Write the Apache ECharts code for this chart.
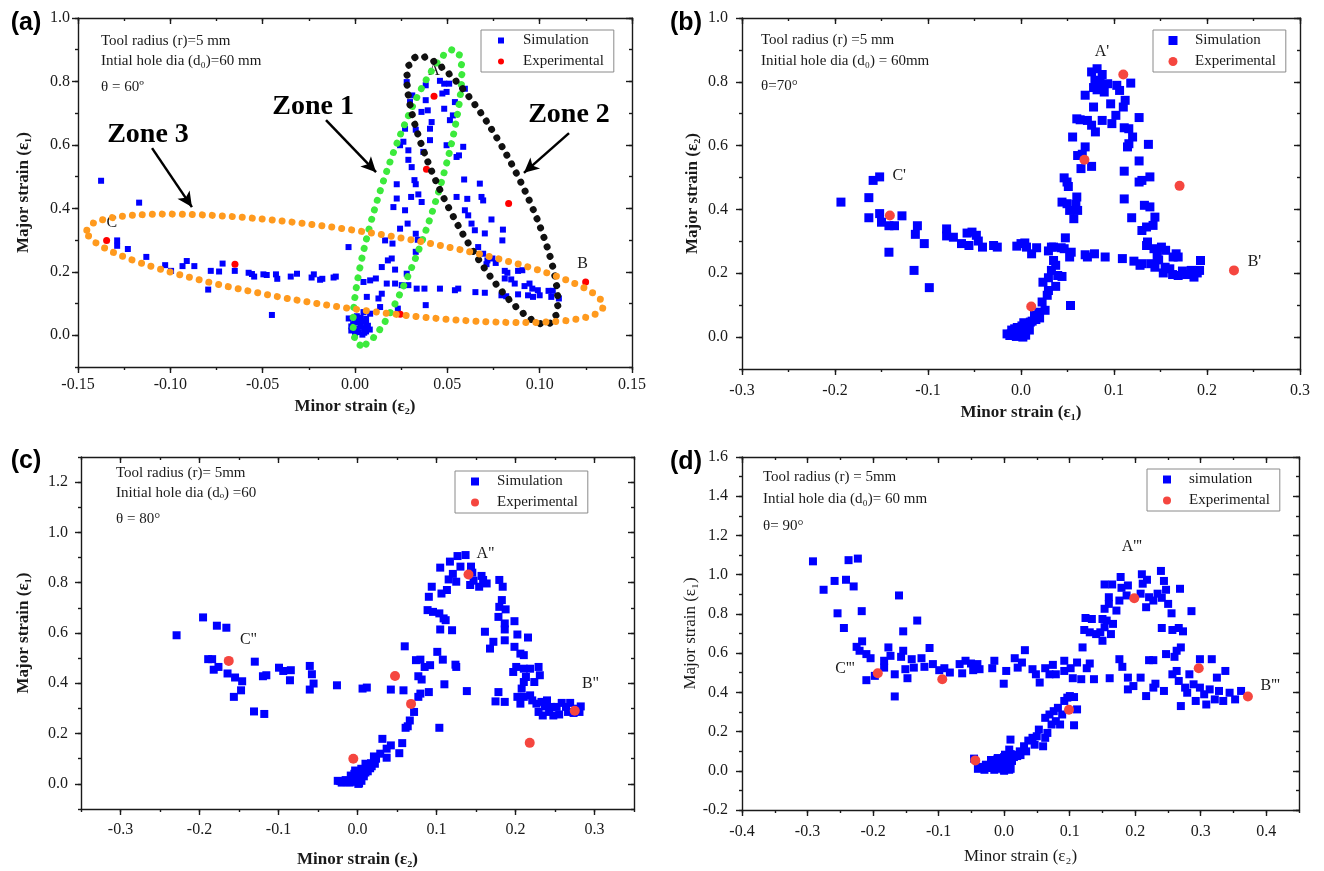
<!DOCTYPE html>
<html>
<head>
<meta charset="utf-8">
<title>Strain distribution</title>
<script src="https://cdn.jsdelivr.net/npm/echarts@6.0.0/dist/echarts.min.js"></script>
<style>
  * { margin: 0; padding: 0; }
  html, body { background: #fff; }
  #main { width: 1324px; height: 871px; }
</style>
</head>
<body>
<div id="main"></div>
<script>
// ---- (a) theta = 60
var simA = [
  [-0.1375,0.487],[-0.1288,0.299],[-0.1288,0.282],[-0.123,0.272],[-0.1169,0.418],[-0.113,0.247],
  [-0.1028,0.221],[-0.0996,0.203],[-0.0934,0.218],[-0.0911,0.234],[-0.087,0.218],[-0.0795,0.144],
  [-0.0781,0.203],[-0.0736,0.201],[-0.0717,0.226],[-0.0651,0.203],[-0.0576,0.197],[-0.0558,0.193],
  [-0.0546,0.185],[-0.0496,0.192],[-0.0478,0.19],[-0.045,0.064],[-0.0428,0.192],[-0.0421,0.178],
  [-0.0348,0.185],[-0.0314,0.194],[-0.0235,0.182],[-0.0223,0.192],[-0.0189,0.175],[-0.0177,0.178],
  [-0.0116,0.182],[-0.0104,0.185],[-0.0035,0.278],
  [0.028,0.798],[0.0383,0.788],[0.046,0.802],[0.0483,0.793],[0.051,0.793],[0.0595,0.777],
  [0.0473,0.762],[0.0496,0.767],[0.0541,0.735],[0.031,0.756],[0.0383,0.741],[0.0298,0.735],
  [0.036,0.704],[0.0394,0.709],[0.0483,0.714],[0.053,0.693],[0.0514,0.678],[0.0415,0.672],
  [0.0406,0.651],[0.0271,0.651],[0.0329,0.648],[0.0406,0.615],[0.0262,0.61],[0.0244,0.599],
  [0.0496,0.599],[0.0586,0.594],[0.0289,0.583],[0.037,0.578],[0.0289,0.553],[0.055,0.562],
  [0.0563,0.567],[0.0307,0.53],[0.0322,0.489],[0.0329,0.476],[0.0226,0.476],[0.0591,0.491],
  [0.0676,0.478],[0.0343,0.444],[0.0304,0.436],[0.0226,0.431],[0.0361,0.42],[0.055,0.436],
  [0.0608,0.43],[0.0685,0.436],[0.0694,0.425],[0.0208,0.404],[0.0271,0.394],[0.0595,0.394],
  [0.0613,0.378],[0.0631,0.352],[0.0739,0.365],[0.0649,0.331],[0.0703,0.321],[0.0801,0.333],
  [0.0798,0.299],[0.0244,0.336],[0.0285,0.352],[0.0163,0.299],[0.0203,0.289],[0.0329,0.32],
  [0.0199,0.242],[0.0178,0.236],[0.0217,0.207],[0.0145,0.215],[0.0329,0.263],[0.034,0.301],
  [0.028,0.194],[0.0667,0.278],[0.0694,0.257],[0.0717,0.236],[0.0744,0.242],[0.0762,0.228],
  [0.0712,0.224],[0.0811,0.203],[0.0825,0.197],[0.0846,0.176],[0.0883,0.203],[0.0906,0.205],
  [0.0811,0.179],[0.0865,0.163],[0.0918,0.155],[0.0945,0.163],[0.096,0.147],[0.099,0.142],
  [0.1048,0.14],[0.1071,0.14],[0.1104,0.116],[0.1063,0.121],[0.1,0.126],[0.0937,0.126],
  [0.0964,0.121],[0.0883,0.129],[0.0819,0.123],[0.0793,0.126],[0.0703,0.134],[0.0652,0.136],
  [0.0559,0.147],[0.0541,0.142],[0.046,0.147],[0.0376,0.147],[0.0334,0.147],[0.0383,0.095],
  [0.0289,0.158],[0.0253,0.158],[0.0217,0.163],[0.0172,0.163],[0.0113,0.179],[0.0082,0.173],
  [0.0046,0.168],[0.0145,0.131],[0.0127,0.116],[0.0064,0.121],[0.0136,0.089],[0.0232,0.084],
  [0.0046,0.073],[0.0082,0.068],[-0.0034,0.053],
  [0.000,0.005],[0.002,0.010],[0.004,0.002],[0.006,0.012],[0.001,0.020],[0.003,0.028],
  [0.005,0.022],[0.007,0.030],[-0.001,0.035],[0.002,0.040],[0.004,0.045],[0.006,0.038],
  [0.000,0.050],[0.003,0.055],[-0.002,0.015],[0.008,0.018],[0.005,0.008],[0.001,0.060],
  [0.006,0.052],[-0.002,0.028]
];
var expA = [[-0.1345,0.299],[-0.065,0.224],[0.0245,0.066],[0.0387,0.523],[0.0428,0.753],[0.0832,0.415],[0.1249,0.168]];
var labelsA = [['C',-0.1317,0.354],['B',0.1233,0.224],['A',0.0428,0.833]];
var xTicksA = [-0.15,-0.10,-0.05,0.00,0.05,0.10,0.15];
var yTicksA = [0.0,0.2,0.4,0.6,0.8,1.0];
var infoA = ['Tool radius (r)=5 mm', 'Intial hole dia (d\u2080)=60 mm', '\u03b8 = 60\u00ba'];

// ---- (b) theta = 70
var simB = [
  [-0.1936,0.423],[-0.1636,0.437],[-0.1636,0.374],[-0.159,0.491],[-0.152,0.502],[-0.152,0.387],
  [-0.150,0.360],[-0.142,0.349],[-0.136,0.349],[-0.142,0.266],[-0.128,0.380],[-0.115,0.209],
  [-0.1136,0.322],[-0.1114,0.349],[-0.104,0.293],[-0.0986,0.155],[-0.080,0.339],[-0.080,0.317],
  [-0.0727,0.313],[-0.064,0.293],[-0.058,0.326],[-0.056,0.287],[-0.0527,0.329],[-0.048,0.319],
  [-0.0459,0.301],[-0.0414,0.282],[-0.0295,0.287],[-0.0255,0.282],[-0.0045,0.285],[0.0,0.293],
  [0.0041,0.295],[0.0059,0.282],[0.0114,0.261],[0.0168,0.280],
  [0.0295,0.270],[0.035,0.282],[0.0432,0.280],[0.0464,0.277],[0.0523,0.251],[0.054,0.266],
  [0.069,0.258],[0.0714,0.251],[0.079,0.261],[0.0905,0.251],[0.109,0.246],[0.1214,0.238],
  [0.128,0.225],[0.130,0.230],[0.1395,0.230],[0.144,0.219],[0.148,0.242],[0.153,0.201],
  [0.155,0.219],[0.16,0.214],[0.163,0.196],[0.169,0.193],[0.1736,0.207],[0.178,0.196],
  [0.183,0.209],[0.186,0.188],[0.1895,0.201],[0.192,0.209],[0.193,0.240],[0.1668,0.261],
  [0.169,0.251],[0.1636,0.251],[0.1555,0.272],[0.151,0.282],[0.1464,0.256],[0.143,0.277],
  [0.135,0.287],[0.136,0.298],[0.135,0.345],[0.142,0.350],[0.144,0.376],[0.1386,0.408],
  [0.1327,0.413],[0.130,0.334],[0.130,0.491],[0.1386,0.502],[0.127,0.486],[0.127,0.552],
  [0.137,0.604],[0.119,0.374],[0.111,0.433],[0.111,0.520],[0.1145,0.596],[0.116,0.606],
  [0.120,0.627],[0.1159,0.653],[0.111,0.656],[0.127,0.688],[0.112,0.742],[0.110,0.721],
  [0.118,0.796],[0.106,0.773],[0.103,0.789],[0.102,0.695],[0.0977,0.669],[0.0964,0.731],
  [0.0932,0.794],[0.0895,0.768],[0.0873,0.782],[0.085,0.796],[0.0818,0.841],[0.0873,0.823],
  [0.0759,0.831],[0.0795,0.805],[0.0818,0.775],[0.078,0.782],[0.069,0.758],[0.078,0.721],
  [0.080,0.643],[0.0759,0.664],[0.0714,0.679],[0.0636,0.681],[0.06,0.684],[0.0873,0.679],
  [0.0555,0.627],[0.069,0.596],[0.0659,0.573],[0.0609,0.569],[0.0759,0.535],[0.0645,0.528],
  [0.0464,0.499],[0.0495,0.486],[0.0509,0.472],[0.0441,0.423],[0.0495,0.418],[0.0523,0.397],
  [0.059,0.416],[0.06,0.439],[0.0568,0.371],[0.0609,0.397],[0.0477,0.311],
  [0.0327,0.282],[0.035,0.240],[0.0373,0.225],[0.0327,0.209],[0.0395,0.193],[0.0295,0.186],
  [0.0441,0.190],[0.0236,0.172],[0.0373,0.159],[0.0295,0.146],[0.0282,0.131],[0.0227,0.110],
  [0.0259,0.084],[0.0191,0.078],[0.0532,0.099],[0.0145,0.068],[0.01,0.047],[0.0055,0.037],
  [0.0032,0.026],[-0.0014,0.021],[-0.0036,0.010],[-0.0105,0.010],[0.0009,0.005],[-0.0068,0.026],
  [-0.015,0.01],[-0.012,0.005],[-0.008,0.015],[-0.005,0.002],[-0.003,0.02],[0,0.008],
  [0.002,0.0],[0.004,0.015],[0.006,0.03],[0.001,0.035],[-0.004,0.03],[0.008,0.04],
  [0.003,0.045],[0.009,0.022],[-0.01,0.022],[0.005,0.006],[0.012,0.05],[0.016,0.055],[0.02,0.06]
];
var expB = [[-0.141,0.381],[0.011,0.096],[0.0682,0.556],[0.110,0.823],[0.1705,0.474],[0.229,0.209]];
var labelsB = [["A'",0.087,0.893],["C'",-0.131,0.505],["B'",0.251,0.235]];
var xTicksB = [-0.3,-0.2,-0.1,0.0,0.1,0.2,0.3];
var yTicksB = [0.0,0.2,0.4,0.6,0.8,1.0];
var infoB = ['Tool radius (r) =5 mm', 'Initial hole dia (d\u2080) = 60mm', '\u03b8=70\u00b0'];

// ---- (c) theta = 80
var simC = [
  [-0.229,0.591],[-0.1955,0.662],[-0.178,0.629],[-0.166,0.621],[-0.189,0.496],[-0.184,0.496],
  [-0.182,0.454],[-0.176,0.465],[-0.1645,0.439],[-0.155,0.423],[-0.146,0.408],[-0.1474,0.372],
  [-0.1565,0.346],[-0.130,0.486],[-0.131,0.288],[-0.118,0.278],[-0.1197,0.428],[-0.1154,0.432],
  [-0.0994,0.462],[-0.094,0.449],[-0.0844,0.452],[-0.0855,0.412],[-0.0604,0.469],[-0.0577,0.436],
  [-0.0556,0.399],[-0.0604,0.375],[-0.026,0.392],[0.0064,0.379],[0.0118,0.383],[0.0422,0.375],
  [0.0582,0.372],[0.0598,0.547],[0.074,0.492],[0.0796,0.494],[0.085,0.465],[0.077,0.428],
  [0.0812,0.415],[0.0919,0.472],[0.0903,0.365],[0.0796,0.359],[0.077,0.346],[0.0716,0.286],
  [0.0662,0.252],[0.0636,0.229],[0.0609,0.223],[0.1036,0.223],[0.101,0.525],[0.108,0.494],
  [0.110,0.396],[0.124,0.474],[0.125,0.465],[0.1384,0.369],[0.0566,0.162],[0.0529,0.122],
  [0.0422,0.153],[0.0369,0.140],[0.0315,0.179],[0.0288,0.120],[0.0369,0.104],[0.0235,0.100],
  [0.0208,0.109],[0.0171,0.082],[0.0128,0.066],[0.0075,0.040],[0.0021,0.020],[-0.0032,0.016],
  [-0.0139,0.007],[-0.0219,0.011],[-0.0085,0.033],[0.001,0.0],[-0.003,0.053],[0.0048,0.060],
  [0.0101,0.080],
  [0.0887,0.691],[0.0956,0.684],[0.1036,0.678],[0.109,0.658],[0.1116,0.651],[0.1047,0.614],
  [0.1197,0.611],[0.0903,0.744],[0.094,0.784],[0.1063,0.757],[0.1132,0.771],[0.1047,0.860],
  [0.117,0.884],[0.1266,0.906],[0.1368,0.910],[0.1303,0.864],[0.1437,0.864],[0.1453,0.840],
  [0.1154,0.813],[0.125,0.804],[0.1207,0.835],[0.1426,0.791],[0.154,0.784],[0.157,0.827],
  [0.159,0.811],[0.1635,0.797],[0.1469,0.808],[0.1795,0.811],[0.1838,0.784],[0.1827,0.731],
  [0.1795,0.704],[0.1875,0.694],[0.1784,0.664],[0.1864,0.638],[0.1864,0.614],[0.1864,0.571],
  [0.1613,0.605],[0.172,0.565],[0.1677,0.538],[0.1987,0.647],[0.2024,0.594],[0.1987,0.545],
  [0.2062,0.518],[0.2105,0.512],[0.2158,0.582],[0.2009,0.465],[0.1971,0.445],[0.2105,0.458],
  [0.2185,0.458],[0.2292,0.465],[0.2308,0.432],[0.2238,0.405],[0.2105,0.405],[0.2132,0.425],
  [0.2078,0.379],[0.1784,0.365],[0.1747,0.328],[0.1864,0.326],[0.2024,0.346],[0.2062,0.319],
  [0.2105,0.346],[0.2185,0.352],[0.2212,0.332],[0.2265,0.319],[0.2329,0.326],[0.2372,0.308],
  [0.2292,0.286],[0.2345,0.272],[0.2425,0.286],[0.2479,0.272],[0.2521,0.306],[0.2585,0.322],
  [0.2639,0.306],[0.2692,0.322],[0.2665,0.286],[0.2735,0.282],[0.2788,0.299],[0.2826,0.308],
  [0.281,0.286],[0.2553,0.276],[0.2452,0.306],[0.2399,0.332],
  [-0.025,0.012],[-0.02,0.005],[-0.015,0.015],[-0.01,0.005],[-0.006,0.02],[-0.002,0.008],
  [0.002,0.002],[0.005,0.012],[0.0,0.028],[0.004,0.035],[0.008,0.03],[0.01,0.045],
  [0.013,0.05],[0.016,0.062],[0.006,0.055],[-0.004,0.04],[0.018,0.07],[0.022,0.08]
];
var expC = [[-0.163,0.489],[-0.0053,0.0997],[0.0475,0.429],[0.0678,0.318],[0.1405,0.833],[0.218,0.163],[0.275,0.291]];
var labelsC = [['A"',0.162,0.917],['C"',-0.138,0.571],['B"',0.295,0.399]];
var xTicksC = [-0.3,-0.2,-0.1,0.0,0.1,0.2,0.3];
var yTicksC = [0.0,0.2,0.4,0.6,0.8,1.0,1.2];
var infoC = ['Tool radius (r)= 5mm', 'Initial hole dia (d\u2092) =60', '\u03b8 = 80\u00b0'];

// ---- (d) theta = 90
var simD = [
  [-0.2917,1.068],[-0.2755,0.923],[-0.2587,0.968],[-0.2542,0.803],[-0.2445,0.728],[-0.2413,0.974],
  [-0.2374,1.074],[-0.2296,0.940],[-0.2232,1.082],[-0.2173,0.814],[-0.2251,0.632],[-0.2167,0.660],
  [-0.2206,0.612],[-0.2102,0.595],[-0.2038,0.574],[-0.2102,0.462],[-0.1973,0.484],[-0.1831,0.561],
  [-0.1831,0.526],[-0.1766,0.629],[-0.1734,0.586],[-0.1669,0.492],[-0.1669,0.379],[-0.1604,0.894],
  [-0.1572,0.581],[-0.154,0.612],[-0.154,0.711],[-0.1507,0.518],[-0.1475,0.472],[-0.141,0.569],
  [-0.1378,0.526],[-0.1326,0.766],[-0.1261,0.574],[-0.1216,0.530],[-0.1138,0.626],[-0.1087,0.544],
  [-0.099,0.513],[-0.0912,0.523],[-0.0828,0.501],[-0.0679,0.544],[-0.064,0.497],[-0.0589,0.561],
  [-0.0505,0.547],[-0.0472,0.513],[-0.0408,0.544],[-0.0375,0.518],[-0.0181,0.523],[-0.0149,0.561],
  [-0.0006,0.444],[0.0032,0.509],[0.0162,0.574],[0.0272,0.552],[0.0207,0.526],[0.0317,0.615],
  [0.0433,0.518],[0.0485,0.492],[0.0543,0.450],[0.0627,0.523],[0.0692,0.492],[0.0744,0.540],
  [0.0789,0.492],[0.0918,0.561],[0.0918,0.509],[0.1015,0.523],[0.1048,0.472],[0.1113,0.552],
  [0.1177,0.467],[0.1197,0.629],[0.1261,0.523],[0.1307,0.547],[0.1371,0.467],[0.1611,0.472],
  [0.1759,0.569],[0.1804,0.530],[0.1889,0.475],[0.1889,0.415],[0.1973,0.432],[0.2083,0.475],
  [0.2167,0.381],[0.2212,0.564],[0.2277,0.564],[0.2277,0.424],[0.2309,0.444],[0.2439,0.407],
  [0.2471,0.595],[0.2568,0.492],[0.26,0.581],[0.2633,0.612],[0.2697,0.629],[0.2633,0.509],
  [0.2665,0.458],[0.2697,0.330],[0.2762,0.424],[0.2794,0.398],[0.2827,0.492],[0.2891,0.441],
  [0.2924,0.356],[0.2988,0.424],[0.2988,0.569],[0.3053,0.390],[0.3085,0.338],[0.3137,0.415],
  [0.3169,0.569],[0.3215,0.364],[0.3247,0.475],[0.3279,0.407],[0.3344,0.356],[0.3376,0.509],
  [0.3441,0.398],[0.3525,0.364],[0.3616,0.407],
  [0.1242,0.779],[0.1339,0.774],[0.1223,0.718],[0.1307,0.706],[0.1404,0.697],[0.1501,0.663],
  [0.1468,0.706],[0.1533,0.732],[0.1501,0.774],[0.1533,0.826],[0.1598,0.851],[0.1565,0.766],
  [0.163,0.697],[0.1662,0.749],[0.1714,0.817],[0.1759,0.868],[0.1533,0.950],[0.1649,0.950],
  [0.1598,0.885],[0.1778,0.988],[0.1791,0.933],[0.1889,0.945],[0.1869,0.894],[0.2102,1.002],
  [0.2115,0.954],[0.218,0.974],[0.2083,0.903],[0.2212,0.885],[0.2167,0.834],[0.2277,0.868],
  [0.2342,0.903],[0.2406,0.882],[0.2393,1.019],[0.2439,0.968],[0.2471,0.923],[0.2503,0.851],
  [0.2555,0.803],[0.2406,0.728],[0.2568,0.718],[0.2665,0.728],[0.273,0.711],[0.2684,0.928],
  [0.2859,0.814],
  [-0.0459,0.062],[-0.0343,0.014],[-0.0278,0.031],[-0.0181,0.014],[-0.0149,0.048],[-0.0097,0.065],
  [-0.0052,0.022],[-0.0006,0.005],[0.0045,0.031],[0.0078,0.005],[0.0013,0.082],[0.011,0.065],
  [0.0078,0.108],[0.0097,0.159],[0.0175,0.082],[0.0239,0.099],[0.0304,0.125],[0.0336,0.099],
  [0.0369,0.154],[0.0433,0.168],[0.0466,0.133],[0.053,0.210],[0.0498,0.176],[0.0595,0.125],
  [0.0627,0.168],[0.066,0.193],[0.0627,0.270],[0.0692,0.287],[0.0757,0.304],[0.0724,0.236],
  [0.0789,0.253],[0.0821,0.321],[0.0854,0.236],[0.0886,0.287],[0.0918,0.356],[0.0964,0.373],
  [0.1003,0.381],[0.1067,0.376],[0.1113,0.313],[0.1067,0.232],
  [-0.04,0.01],[-0.035,0.02],[-0.03,0.005],[-0.025,0.015],[-0.02,0.03],[-0.015,0.005],
  [-0.012,0.02],[-0.008,0.04],[-0.005,0.01],[-0.002,0.03],[0.0,0.0],[0.003,0.015],
  [0.006,0.04],[0.008,0.025],[0.01,0.01],[-0.01,0.06],[0.0,0.07],[0.005,0.055],
  [0.012,0.05],[0.015,0.07],[0.02,0.075],[0.025,0.08],[-0.02,0.055],[0.01,0.085]
];
var expD = [[-0.1928,0.497],[-0.0944,0.467],[-0.044,0.053],[0.099,0.311],[0.1986,0.880],[0.297,0.523],[0.372,0.379]];
var labelsD = [["A'''",0.195,1.142],["C'''",-0.243,0.518],["B'''",0.406,0.432]];
var xTicksD = [-0.4,-0.3,-0.2,-0.1,0.0,0.1,0.2,0.3,0.4];
var yTicksD = [-0.2,0.0,0.2,0.4,0.6,0.8,1.0,1.2,1.4,1.6];
var infoD = ['Tool radius (r) = 5mm', 'Intial hole dia (d\u2080)= 60 mm', '\u03b8= 90\u00b0'];

// zone annotations of panel (a)
var zoneNames = [['Zone 1',-0.0227,0.7195],['Zone 2',0.1159,0.694],['Zone 3',-0.1121,0.631]];
var zoneArrows = [
  [[-0.0157,0.678],[0.0114,0.514]],
  [[0.1159,0.637],[0.0915,0.512]],
  [[-0.1099,0.590],[-0.0883,0.404]]
];
var zoneCenters = [[0.0284,0.434],[0.0690,0.457],[-0.0054,0.211]];

var SERIF = '"Liberation Serif", "Times New Roman", serif';
var INK = '#1a1a1a';

var panels = [
  {grid:{left:78, top:18, width:554, height:349}, xr:[-0.15,0.15], xm:0.025, xt:xTicksA, xd:2,
   yr:[-0.1,1.0], ym:0.1, yt:yTicksA, yd:1, xName:'Minor strain (\u03b5\u2082)', yName:'Major strain (\u03b5\u2081)',
   bold:true, xGap:31, yGap:46, xMargin:10, yMargin:8,
   sim:simA, exp:expA, labels:labelsA, simName:'Simulation', simSize:6, expColor:'#ff0000', expSize:7,
   legend:[481,30], letter:'(a)', letterPos:[26,23], info:infoA, infoX:101, infoY:[41,61,87]},
  {grid:{left:742, top:18, width:558, height:351}, xr:[-0.3,0.3], xm:0.05, xt:xTicksB, xd:1,
   yr:[-0.1,1.0], ym:0.1, yt:yTicksB, yd:1, xName:'Minor strain (\u03b5\u2081)', yName:'Major strain (\u03b5\u2082)',
   bold:true, xGap:35, yGap:41, xMargin:14, yMargin:14,
   sim:simB, exp:expB, labels:labelsB, simName:'Simulation', simSize:9, expColor:'#f5463f', expSize:10,
   legend:[1153,30], letter:'(b)', letterPos:[686,23], info:infoB, infoX:761, infoY:[40,61,86]},
  {grid:{left:81, top:457, width:553, height:352}, xr:[-0.35,0.35], xm:0.05, xt:xTicksC, xd:1,
   yr:[-0.1,1.3], ym:0.1, yt:yTicksC, yd:1, xName:'Minor strain (\u03b5\u2082)', yName:'Major strain (\u03b5\u2081)',
   bold:true, xGap:42, yGap:49, xMargin:13, yMargin:13,
   sim:simC, exp:expC, labels:labelsC, simName:'Simulation', simSize:8, expColor:'#f5463f', expSize:10,
   legend:[455,471], letter:'(c)', letterPos:[26,461], info:infoC, infoX:116, infoY:[473,493,519]},
  {grid:{left:742, top:457, width:557, height:353}, xr:[-0.4,0.45], xm:0.05, xt:xTicksD, xd:1,
   yr:[-0.2,1.6], ym:0.1, yt:yTicksD, yd:1, xName:'Minor strain (\u03b5\u2082)', yName:'Major strain (\u03b5\u2081)',
   bold:false, xGap:38, yGap:43, xMargin:14, yMargin:14,
   sim:simD, exp:expD, labels:labelsD, simName:'simulation', simSize:8, expColor:'#f5463f', expSize:10,
   legend:[1147,469], letter:'(d)', letterPos:[686,462], info:infoD, infoX:763, infoY:[477,499,526]}
];

function axisSet(dim, gi, p) {
  var isX = dim === 'x';
  var range = isX ? p.xr : p.yr, minor = isX ? p.xm : p.ym, majors = isX ? p.xt : p.yt;
  var dec = isX ? p.xd : p.yd;
  var pos = isX ? ['bottom', 'top'] : ['left', 'right'];
  var line = {color: INK, width: 1.4};
  function base(extra) {
    return Object.assign({gridIndex: gi, type: 'value', min: range[0], max: range[1], interval: minor,
      splitLine: {show: false}}, extra);
  }
  return [
    base({position: pos[0], name: isX ? p.xName : p.yName, nameLocation: 'middle',
      nameGap: isX ? p.xGap : p.yGap,
      nameTextStyle: {fontFamily: SERIF, fontSize: 17, fontWeight: p.bold ? 'bold' : 'normal', color: INK},
      axisLine: {show: true, onZero: false, lineStyle: line},
      axisTick: {show: true, customValues: majors, length: 6, inside: false, lineStyle: line},
      axisLabel: {show: true, customValues: majors, margin: isX ? p.xMargin : p.yMargin,
        formatter: function (v) { return (+v).toFixed(dec); },
        fontFamily: SERIF, fontSize: 16, color: INK}}),
    base({position: pos[0], axisLine: {show: false, onZero: false},
      axisTick: {show: true, length: 3, inside: false, lineStyle: line}, axisLabel: {show: false}}),
    base({position: pos[1], axisLine: {show: true, onZero: false, lineStyle: line},
      axisTick: {show: true, customValues: majors, length: 6, inside: true, lineStyle: line},
      axisLabel: {show: false}}),
    base({position: pos[1], axisLine: {show: false, onZero: false},
      axisTick: {show: true, length: 3, inside: true, lineStyle: line}, axisLabel: {show: false}})
  ];
}

var xAxes = [], yAxes = [], series = [], legends = [], graphics = [];
panels.forEach(function (p, gi) {
  xAxes = xAxes.concat(axisSet('x', gi, p));
  yAxes = yAxes.concat(axisSet('y', gi, p));
  var ai = gi * 4;
  series.push({
    type: 'scatter', name: p.simName, xAxisIndex: ai, yAxisIndex: ai, data: p.sim,
    symbol: 'rect', symbolSize: p.simSize, itemStyle: {color: '#0000ff', opacity: 1}, z: 3, silent: true
  });
  series.push({
    type: 'scatter', name: 'Experimental', xAxisIndex: ai, yAxisIndex: ai, data: p.exp,
    symbol: 'circle', symbolSize: p.expSize, itemStyle: {color: p.expColor, opacity: 1}, z: 4, silent: true
  });
  series.push({
    type: 'scatter', name: 'pointLabels' + gi, xAxisIndex: ai, yAxisIndex: ai,
    data: p.labels.map(function (l) { return {name: l[0], value: [l[1], l[2]]}; }),
    symbolSize: 0, itemStyle: {color: 'transparent', opacity: 1}, z: 5, silent: true,
    label: {show: true, position: 'inside', formatter: '{b}', fontFamily: SERIF, fontSize: 16,
      color: INK, opacity: 1}
  });
  var s = p.simSize;
  legends.push({
    left: p.legend[0], top: p.legend[1], orient: 'vertical', selectedMode: false,
    padding: [2, 10, 2, 20 - s / 2], itemGap: 4, itemWidth: s, itemHeight: s,
    borderColor: '#8a8a8a', borderWidth: 1,
    textStyle: {fontFamily: SERIF, fontSize: 15, color: INK, lineHeight: 17, padding: [0, 0, 0, 17 - s / 2]},
    data: [
      {name: p.simName, icon: 'rect', itemStyle: {color: '#0000ff', opacity: 1}},
      {name: 'Experimental', icon: 'circle', itemStyle: {color: p.expColor, opacity: 1}}
    ]
  });
  graphics.push({
    type: 'text', x: p.letterPos[0], y: p.letterPos[1], silent: true,
    style: {text: p.letter, font: 'bold 25px "Liberation Sans", Arial, sans-serif', fill: '#000',
      align: 'center', verticalAlign: 'middle'}
  });
  p.info.forEach(function (t, k) {
    graphics.push({
      type: 'text', x: p.infoX, y: p.infoY[k], silent: true,
      style: {text: t, font: '15px ' + SERIF, fill: INK, align: 'left', verticalAlign: 'middle'}
    });
  });
});

// zone names + arrows in panel (a)
series.push({
  type: 'scatter', name: 'zones', xAxisIndex: 0, yAxisIndex: 0, silent: true, z: 6,
  data: zoneNames.map(function (z) { return {name: z[0], value: [z[1], z[2]]}; }),
  symbolSize: 0, itemStyle: {color: 'transparent', opacity: 1},
  label: {show: true, position: 'inside', formatter: '{b}', fontFamily: SERIF, fontSize: 28,
    fontWeight: 'bold', color: '#000', opacity: 1},
  markLine: {
    silent: true, animation: false, symbol: ['none', 'arrow'], symbolSize: [11, 15],
    label: {show: false}, lineStyle: {color: '#000', width: 2.5, type: 'solid', opacity: 1},
    data: zoneArrows.map(function (a) { return [{coord: a[0]}, {coord: a[1]}]; })
  }
});

var chart = echarts.init(document.getElementById('main'));
chart.setOption({
  animation: false,
  backgroundColor: '#fff',
  grid: panels.map(function (p) { return p.grid; }),
  xAxis: xAxes,
  yAxis: yAxes,
  legend: legends,
  series: series,
  graphic: graphics
});

// dotted zone ellipses (pixel radii, rotation in degrees)
var zoneShapes = [
  {rx: 155, ry: 28, rot: 72.2, color: '#3cea3c'},
  {rx: 149, ry: 38, rot: -63.1, color: '#111111'},
  {rx: 261, ry: 39, rot: -8.4, color: '#ff9a1e'}
];
var ellipses = zoneShapes.map(function (z, k) {
  var c = chart.convertToPixel({gridIndex: 0}, zoneCenters[k]);
  return {
    type: 'ellipse', x: c[0], y: c[1], rotation: z.rot * Math.PI / 180, silent: true, z: 60,
    shape: {cx: 0, cy: 0, rx: z.rx, ry: z.ry},
    style: {fill: 'none', stroke: z.color, lineWidth: 7, lineDash: [0, 10], lineCap: 'round'}
  };
});
chart.setOption({graphic: graphics.concat(ellipses)});
</script>
</body>
</html>
